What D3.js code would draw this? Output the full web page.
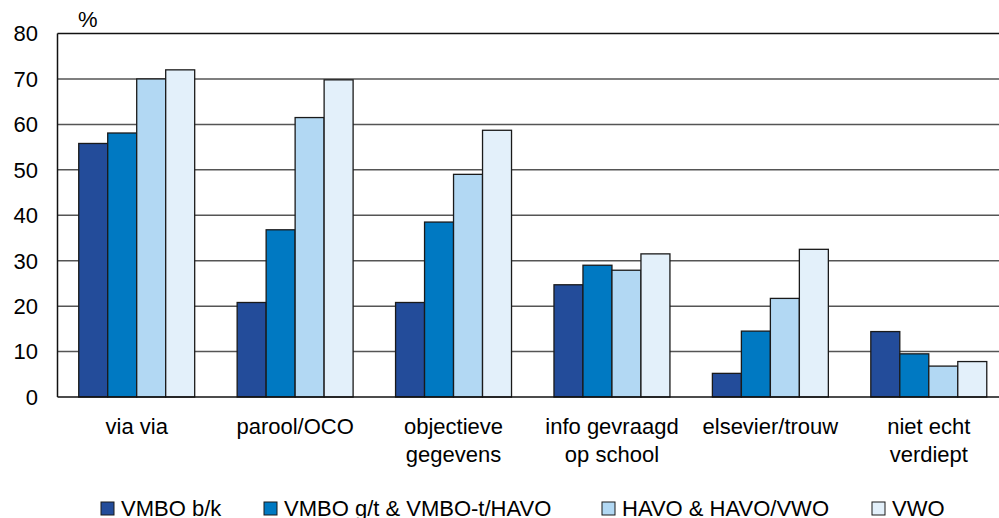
<!DOCTYPE html>
<html>
<head>
<meta charset="utf-8">
<script src="https://cdn.jsdelivr.net/npm/d3@7"></script>
<style>
  body { margin: 0; background: #fff; }
  text { font-family: "Liberation Sans", Arial, sans-serif; fill: #000; }
</style>
</head>
<body>
<div id="chart"></div>
<script>
// categories and series
var categories = [["via via"], ["parool/OCO"], ["objectieve", "gegevens"], ["info gevraagd", "op school"], ["elsevier/trouw"], ["niet echt", "verdiept"]];
var seriesNames = ["VMBO b/k", "VMBO g/t & VMBO-t/HAVO", "HAVO & HAVO/VWO", "VWO"];
var vmboBK   = [55.8, 20.8, 20.8, 24.7, 5.2, 14.4];
var vmboGT   = [58.1, 36.8, 38.5, 29.0, 14.5, 9.5];
var havo     = [70.0, 61.5, 49.0, 27.9, 21.7, 6.8];
var vwo      = [72.0, 69.8, 58.7, 31.5, 32.5, 7.8];
var yTicks   = [0, 10, 20, 30, 40, 50, 60, 70, 80];
var colors   = ["#234c9a", "#0079c2", "#b2d8f3", "#e3f0fa"];

var series = [vmboBK, vmboGT, havo, vwo];

var W = 999, H = 518;
var margin = {top: 33.5, left: 57.5, bottom: 121};
var plotRight = 1008;
var height = H - margin.top - margin.bottom;

var svg = d3.select("#chart").append("svg")
    .attr("width", W)
    .attr("height", H);

var x = d3.scaleBand()
    .domain(d3.range(categories.length))
    .range([margin.left, plotRight])
    .paddingInner(0.268)
    .paddingOuter(0.134);

var x1 = d3.scaleBand()
    .domain(d3.range(series.length))
    .range([0, x.bandwidth()]);

var y = d3.scaleLinear()
    .domain([0, 80])
    .range([margin.top + height, margin.top]);

// gridlines
svg.append("g")
  .selectAll("line")
  .data(yTicks.filter(d => d > 0))
  .enter()
  .append("line")
    .attr("x1", margin.left)
    .attr("x2", plotRight)
    .attr("y1", d => y(d))
    .attr("y2", d => y(d))
    .attr("stroke", d => d === 80 ? "#111" : "#555")
    .attr("stroke-width", 1.5);

// y tick labels
svg.append("g")
  .selectAll("text")
  .data(yTicks)
  .enter()
  .append("text")
    .attr("x", 38)
    .attr("y", d => y(d))
    .attr("dy", "0.36em")
    .attr("text-anchor", "end")
    .style("font-size", "22px")
    .text(d => d);

svg.append("text")
    .attr("x", 78)
    .attr("y", 27)
    .style("font-size", "22px")
    .text("%");

// bars
var groups = svg.append("g")
  .selectAll("g")
  .data(series)
  .enter()
  .append("g")
    .attr("fill", (d, i) => colors[i]);

groups.selectAll("rect")
  .data((d, i) => d.map((v, j) => ({v: v, s: i, c: j})))
  .enter()
  .append("rect")
    .attr("x", d => x(d.c) + x1(d.s))
    .attr("y", d => y(d.v))
    .attr("width", x1.bandwidth())
    .attr("height", d => y(0) - y(d.v))
    .attr("stroke", "#1a1a1a")
    .attr("stroke-width", 1.3);

// axes lines
svg.append("line")
    .attr("x1", margin.left).attr("x2", margin.left)
    .attr("y1", y(80)).attr("y2", y(0))
    .attr("stroke", "#111").attr("stroke-width", 1.5);
svg.append("line")
    .attr("x1", margin.left).attr("x2", plotRight)
    .attr("y1", y(0)).attr("y2", y(0))
    .attr("stroke", "#111").attr("stroke-width", 1.5);

// category labels
svg.append("g")
  .selectAll("text")
  .data(categories)
  .enter()
  .append("text")
    .attr("text-anchor", "middle")
    .style("font-size", "22px")
    .attr("transform", (d, i) => "translate(" + (x(i) + x.bandwidth() / 2) + ",434)")
  .selectAll("tspan")
  .data(d => d)
  .enter()
  .append("tspan")
    .attr("x", 0)
    .attr("dy", (d, i) => i === 0 ? 0 : 28)
    .text(d => d);

// legend
var legendX = [101, 264, 602, 872];
var legend = svg.append("g")
  .selectAll("g")
  .data(seriesNames)
  .enter()
  .append("g")
    .attr("transform", (d, i) => "translate(" + legendX[i] + ",502)");

legend.append("rect")
    .attr("width", 13)
    .attr("height", 13)
    .attr("fill", (d, i) => colors[i])
    .attr("stroke", "#1a1a1a")
    .attr("stroke-width", 1);

legend.append("text")
    .attr("x", 20)
    .attr("y", 14)
    .style("font-size", "22px")
    .text(d => d);
</script>
</body>
</html>
